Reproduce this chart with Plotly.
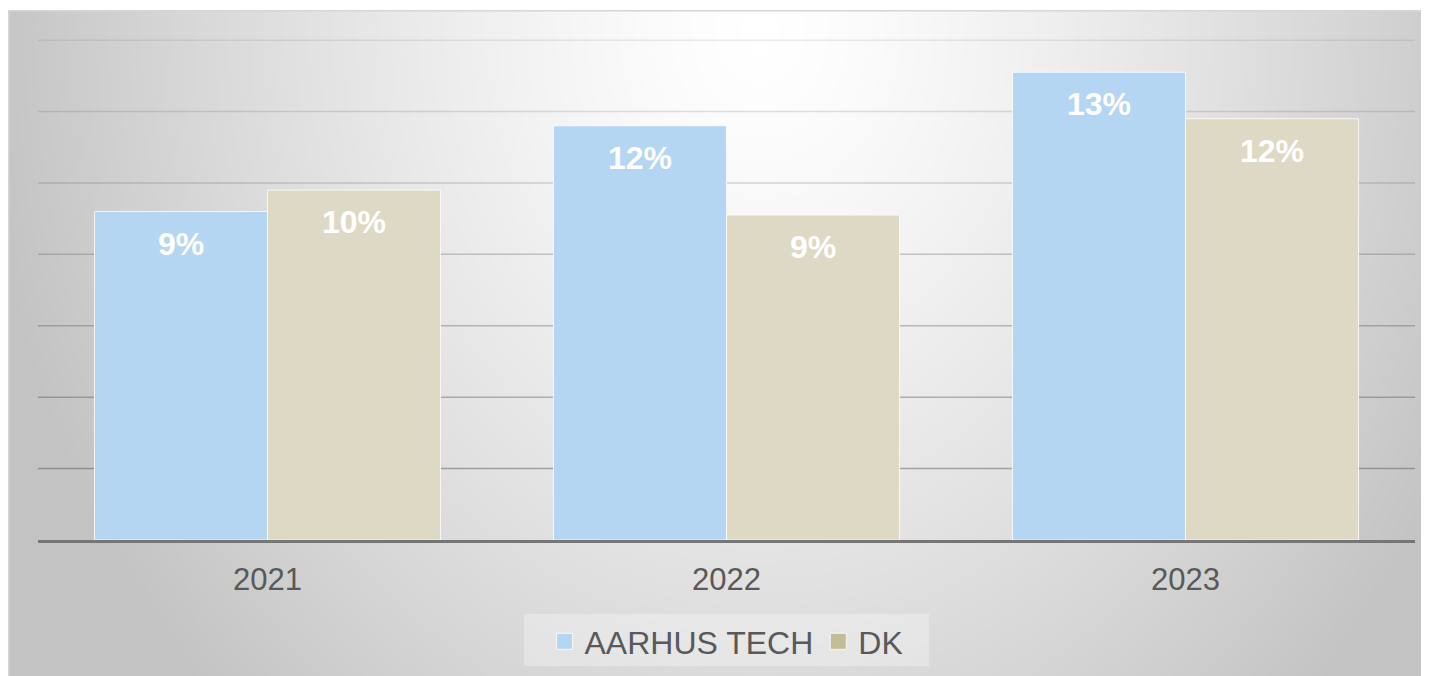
import plotly.graph_objects as go

# ---- data ----
years = ["2021", "2022", "2023"]
aarhus_tech = [9.2, 11.6, 13.1]
dk = [9.8, 9.1, 11.8]
series_names = ["AARHUS TECH", "DK"]
grid_ticks = [2, 4, 6, 8, 10, 12, 14]

# ---- layout constants (figure pixel coordinates) ----
W, H = 1429, 676
ML, MR, MT, MB = 30, 22, 25, 144
PW = W - ML - MR
PH = H - MT - MB
YMAX = 14.2
BARGAP = 0.246
FONT = "Liberation Sans, Arial, sans-serif"
OFF = 8  # page body margin

bar_colors = ["#b4d6f2", "#ded9c4"]
legend_colors = ["#b4d6f2", "#c4bc96"]


def px_x(sx):
    # screen x -> paper x
    return (sx - OFF - ML) / PW


def px_y(sy):
    # screen y -> paper y
    return (H - MB - (sy - OFF)) / PH


shapes = []
# background gradient (radial, light near top centre)
shapes.append(dict(type="rect", xref="paper", yref="paper",
                   x0=px_x(0), x1=px_x(1500), y0=px_y(800), y1=px_y(10),
                   fillcolor="rgb(195,195,195)", line=dict(width=0), layer="below"))
cx, cy, ax, ay = 760, 30, 780, 947
for v in range(196, 256):
    d = ((255 - (v - 0.5)) / 60) ** (1 / 1.3)
    shapes.append(dict(type="circle", xref="paper", yref="paper",
                       x0=px_x(cx - d * ax), x1=px_x(cx + d * ax),
                       y0=px_y(cy + d * ay), y1=px_y(cy - d * ay),
                       fillcolor=f"rgb({v},{v},{v})", line=dict(width=0), layer="below"))
# white strip above the chart area
shapes.append(dict(type="rect", xref="paper", yref="paper",
                   x0=px_x(-50), x1=px_x(1600), y0=px_y(10), y1=px_y(-400),
                   fillcolor="white", line=dict(width=0), layer="below"))
# chart border (top, left, right)
shapes.append(dict(type="path", xref="paper", yref="paper", layer="below",
                   path=(f"M {px_x(8.75)},{px_y(700)} L {px_x(8.75)},{px_y(10.75)} "
                         f"L {px_x(1428.25)},{px_y(10.75)} L {px_x(1428.25)},{px_y(700)}"),
                   line=dict(width=1.5, color="#d6d6d6")))
# legend panel
shapes.append(dict(type="rect", xref="paper", yref="paper",
                   x0=px_x(524), x1=px_x(929), y0=px_y(666), y1=px_y(614),
                   fillcolor="rgba(255,255,255,0.3)", line=dict(width=0), layer="below"))

# gridlines (darker toward the bottom)
for t in grid_ticks:
    alpha = 0.45 - (t - min(grid_ticks)) / (max(grid_ticks) - min(grid_ticks)) * 0.33
    shapes.append(dict(type="line", xref="paper", yref="y", x0=0, x1=1, y0=t, y1=t,
                       line=dict(color=f"rgba(80,80,80,{alpha:.3f})", width=1.5), layer="below"))

fig = go.Figure()
all_series = [aarhus_tech, dk]
for name, vals, col in zip(series_names, all_series, bar_colors):
    fig.add_trace(go.Bar(x=years, y=vals, name=name, showlegend=False,
                         marker=dict(color=col, line=dict(color="rgba(255,255,255,0.8)", width=1)),
                         hoverinfo="skip"))
for name, col in zip(series_names, legend_colors):
    fig.add_trace(go.Scatter(x=[None], y=[None], mode="markers", name=name,
                             marker=dict(symbol="square", size=17, color=col,
                                         line=dict(color="rgba(255,255,255,0.8)", width=1))))

annotations = []
half = (1 - BARGAP) / 4
for j, vals in enumerate(all_series):
    off = -half if j == 0 else half
    for i, v in enumerate(vals):
        annotations.append(dict(x=i + off, y=v, xref="x", yref="y",
                                text=f"{round(v)}%", showarrow=False,
                                font=dict(family=FONT, size=32, color="white", weight="bold"),
                                yanchor="middle", yshift=-32))

fig.update_layout(
    width=W, height=H,
    margin=dict(l=ML, r=MR, t=MT, b=MB),
    paper_bgcolor="white", plot_bgcolor="rgba(0,0,0,0)",
    barmode="group", bargap=BARGAP, bargroupgap=0,
    shapes=shapes, annotations=annotations,
    font=dict(family=FONT, size=31, color="#595959"),
    legend=dict(orientation="h", x=0.5, xanchor="center", y=px_y(614), yanchor="top",
                bgcolor="rgba(0,0,0,0)", font=dict(family=FONT, size=32, color="#595959"),
                itemsizing="trace"),
    xaxis=dict(type="category", range=[-0.5, 2.5], showline=True, linecolor="#767676",
               linewidth=3, showgrid=False, zeroline=False, ticks="", ticklabelstandoff=10,
               tickfont=dict(family=FONT, size=31, color="#595959")),
    yaxis=dict(range=[0, YMAX], showgrid=False, zeroline=False, showticklabels=False,
               showline=False),
)

fig.write_html(
    "out.html",
    post_script="document.documentElement.style.overflow='hidden';document.body.style.overflow='hidden';",
)
